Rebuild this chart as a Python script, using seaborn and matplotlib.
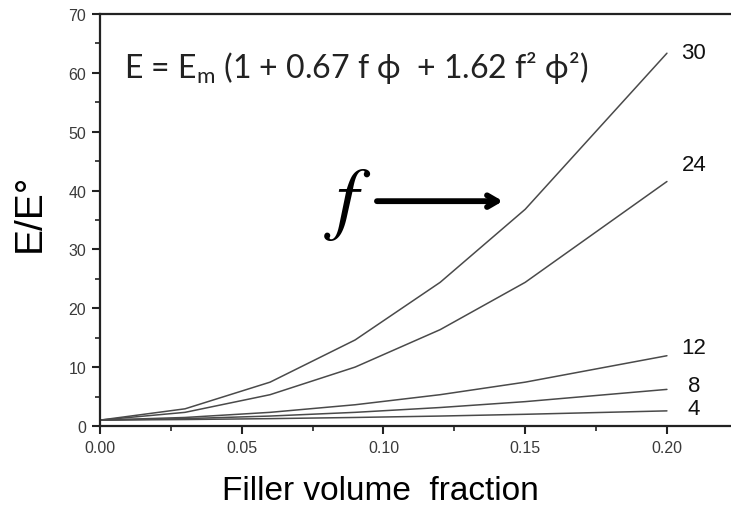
import matplotlib
matplotlib.use("Agg")
import matplotlib.pyplot as plt
import seaborn as sns
import pandas as pd
from matplotlib.ticker import MultipleLocator

phi = [0.0, 0.03, 0.06, 0.09, 0.12, 0.15, 0.20]
f4 = [1.0, 1.10, 1.25, 1.45, 1.69, 1.99, 2.57]
f8 = [1.0, 1.25, 1.69, 2.32, 3.14, 4.14, 6.22]
f12 = [1.0, 1.45, 2.32, 3.61, 5.32, 7.45, 11.94]
f24 = [1.0, 2.32, 5.32, 10.01, 16.37, 24.41, 41.54]
f30 = [1.0, 2.92, 7.45, 14.62, 24.41, 36.82, 63.34]
series = {"4": f4, "8": f8, "12": f12, "24": f24, "30": f30}
x_ticks = [0.00, 0.05, 0.10, 0.15, 0.20]
x_tick_labels = ["0.00", "0.05", "0.10", "0.15", "0.20"]
y_ticks = [0, 10, 20, 30, 40, 50, 60, 70]

rows = []
for name, vals in series.items():
    for p, v in zip(phi, vals):
        rows.append({"phi": p, "E": v, "f": name})
df = pd.DataFrame(rows)

sns.set_theme(style="white")
plt.rcParams["font.family"] = ["Liberation Sans", "DejaVu Sans"]
plt.rcParams["mathtext.fontset"] = "custom"
plt.rcParams["mathtext.rm"] = "Lato"
plt.rcParams["mathtext.it"] = "Lato:italic"

fig = plt.figure(figsize=(7.31, 5.10), dpi=100)
ax = fig.add_axes([100/731, 1 - 427/510, 1 - 100/731, (427 - 15)/510])

sns.lineplot(data=df, x="phi", y="E", hue="f", palette=["#4a4a4a"] * 5,
             linewidth=1.1, legend=False, ax=ax)

ax.set_xlim(0, 0.2226)
ax.set_ylim(0, 70)
ax.set_xticks(x_ticks)
ax.set_xticklabels(x_tick_labels)
ax.set_yticks(y_ticks)
ax.xaxis.set_minor_locator(MultipleLocator(0.025))
ax.yaxis.set_minor_locator(MultipleLocator(5))
ax.tick_params(which="major", direction="out", length=6, width=1.5, color="#222222",
               labelsize=11.5, labelcolor="#3a3a3a", bottom=True, left=True, pad=4)
ax.tick_params(which="minor", direction="out", length=3.5, width=1.2, color="#222222",
               bottom=True, left=True)
for s in ["left", "bottom", "top"]:
    ax.spines[s].set_visible(True)
    ax.spines[s].set_linewidth(1.6)
    ax.spines[s].set_color("#222222")
ax.spines["right"].set_visible(False)

ax.set_xlabel("Filler volume  fraction", fontsize=24, color="black")
ax.xaxis.set_label_coords((380 - 100) / 631, -(500 - 427) / 412, transform=ax.transAxes)
ax.xaxis.label.set_va("baseline")
ax.set_ylabel("E/E°", fontsize=28, color="black")
ax.yaxis.set_label_coords(-(100 - 30) / 631, (427 - 213) / 412, transform=ax.transAxes)
ax.yaxis.label.set_va("center")

label_pos = {"30": 63.4, "24": 44.5, "12": 13.4, "8": 6.8, "4": 2.9}
for name, yv in label_pos.items():
    ax.text(0.2095, yv, name, fontsize=16, ha="center", va="center", color="#111111")

ax.text(0.0085, 61.0, "E = E$_{\\mathrm{m}}$ (1 + 0.67 f ϕ  + 1.62 f² ϕ²)",
        fontsize=23, ha="left", va="center", color="#222222",
        family=["Lato", "DejaVu Sans"])

ax.text(0.0875, 37.7, r"$f$", fontsize=58, math_fontfamily="stix",
        ha="center", va="center", color="black")
ax.annotate("", xy=(0.1421, 38.2), xytext=(0.0977, 38.2),
            arrowprops=dict(arrowstyle="->,head_length=0.6,head_width=0.35",
                            lw=4.2, color="black", shrinkA=0, shrinkB=0))

fig.savefig("out.png", dpi=100)
